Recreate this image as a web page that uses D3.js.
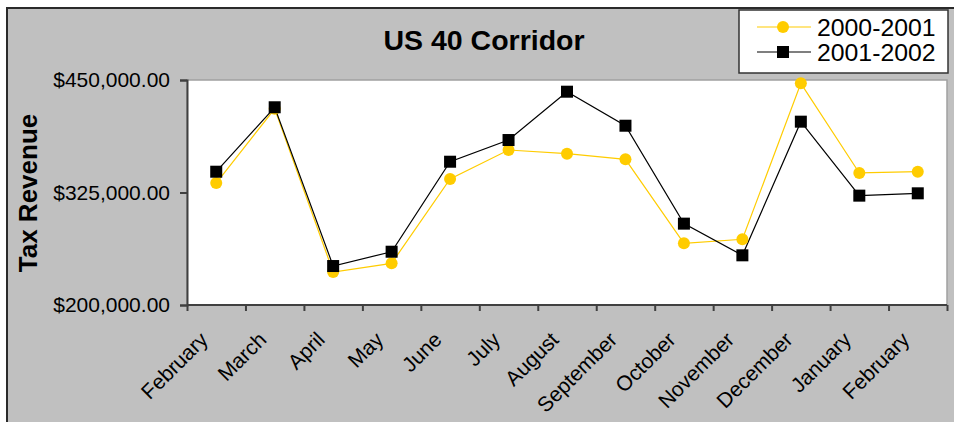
<!DOCTYPE html>
<html>
<head>
<meta charset="utf-8">
<script src="https://cdn.jsdelivr.net/npm/d3@7"></script>
<style>
  html, body { margin: 0; padding: 0; background: #ffffff; }
  svg { display: block; font-family: "Liberation Sans", Arial, sans-serif; }
</style>
</head>
<body>
<svg id="chart" width="954" height="422"></svg>
<script>
const months = ["February","March","April","May","June","July","August","September","October","November","December","January","February"];
const series2000 = [335500, 418000, 236700, 246300, 340000, 372200, 368100, 361900, 268500, 273000, 446300, 346700, 348100];
const series2001 = [348100, 419700, 243300, 259200, 359200, 383300, 437000, 399200, 290400, 255200, 403700, 321500, 324100];
const yTicks = [200000, 325000, 450000];
const seriesNames = ["2000-2001", "2001-2002"];

const svg = d3.select("#chart");
const plot = {left: 187, right: 947, top: 80, bottom: 305};

// background frame
svg.append("rect").attr("x", 7).attr("y", 8).attr("width", 960).attr("height", 430)
  .attr("fill", "#c0c0c0").attr("stroke", "#2a2a2a").attr("stroke-width", 2);

// plot area
svg.append("rect").attr("x", plot.left).attr("y", plot.top)
  .attr("width", plot.right - plot.left).attr("height", plot.bottom - plot.top)
  .attr("fill", "#ffffff").attr("stroke", "#a0a0a0").attr("stroke-width", 1.5);

const y = d3.scaleLinear().domain([200000, 450000]).range([plot.bottom, plot.top]);
const xb = d3.scaleLinear().domain([0, months.length]).range([plot.left, plot.right]);
const xc = i => xb(i + 0.5);

// y axis
const yAxis = d3.axisLeft(y).tickValues(yTicks).tickSize(7).tickPadding(10)
  .tickFormat(d => "$" + d3.format(",.2f")(d));
const gy = svg.append("g").attr("transform", `translate(${plot.left},0)`).call(yAxis);
gy.select(".domain").attr("stroke", "#404040").attr("stroke-width", 2);
gy.selectAll(".tick line").attr("stroke", "#404040").attr("stroke-width", 2);
gy.selectAll(".tick text").attr("font-size", 21).attr("fill", "#000")
  .attr("font-family", "Liberation Sans, Arial, sans-serif").attr("dy", "0.33em");

// x axis (ticks at category boundaries)
const xAxis = d3.axisBottom(xb).tickValues(d3.range(months.length + 1)).tickSize(6).tickFormat("");
const gx = svg.append("g").attr("transform", `translate(0,${plot.bottom})`).call(xAxis);
gx.select(".domain").attr("stroke", "#404040").attr("stroke-width", 2)
  .attr("d", `M${plot.left},0H${plot.right}`);
gx.selectAll(".tick line").attr("stroke", "#404040").attr("stroke-width", 2);

// x labels
svg.append("g").selectAll("text").data(months).join("text")
  .attr("transform", (d, i) => `translate(${xc(i) - 7},341) rotate(-45)`)
  .attr("text-anchor", "end").attr("font-size", 21).attr("fill", "#000")
  .text(d => d);

// lines
const line = d3.line().x((d, i) => xc(i)).y(d => y(d));
svg.append("path").datum(series2000).attr("d", line)
  .attr("fill", "none").attr("stroke", "#ffcc00").attr("stroke-width", 1.2);
svg.append("path").datum(series2001).attr("d", line)
  .attr("fill", "none").attr("stroke", "#000000").attr("stroke-width", 1.2);

// markers
svg.append("g").selectAll("circle").data(series2000).join("circle")
  .attr("cx", (d, i) => xc(i)).attr("cy", d => y(d)).attr("r", 6)
  .attr("fill", "#ffcc00");
svg.append("g").selectAll("rect").data(series2001).join("rect")
  .attr("x", (d, i) => xc(i) - 6).attr("y", d => y(d) - 6)
  .attr("width", 12).attr("height", 12).attr("fill", "#000000");

// title
svg.append("text").attr("x", 484).attr("y", 50).attr("text-anchor", "middle")
  .attr("font-size", 28.5).attr("font-weight", "bold").attr("fill", "#000")
  .text("US 40 Corridor");

// y title
svg.append("text").attr("transform", "translate(37,193) rotate(-90)")
  .attr("text-anchor", "middle").attr("font-size", 26).attr("font-weight", "bold")
  .attr("fill", "#000").text("Tax Revenue");

// legend
const lg = svg.append("g");
lg.append("rect").attr("x", 739).attr("y", 10).attr("width", 209).attr("height", 63)
  .attr("fill", "#ffffff").attr("stroke", "#333333").attr("stroke-width", 1.5);
const colors = ["#ffcc00", "#000000"];
seriesNames.forEach((name, k) => {
  const cy = 27 + k * 25;
  lg.append("line").attr("x1", 757).attr("x2", 811).attr("y1", cy).attr("y2", cy)
    .attr("stroke", colors[k]).attr("stroke-width", 1.2);
  if (k === 0) {
    lg.append("circle").attr("cx", 783).attr("cy", cy).attr("r", 6).attr("fill", colors[k]);
  } else {
    lg.append("rect").attr("x", 777).attr("y", cy - 6).attr("width", 12).attr("height", 12).attr("fill", colors[k]);
  }
  lg.append("text").attr("x", 817).attr("y", cy).attr("dy", "0.35em")
    .attr("font-size", 24.8).attr("fill", "#000").text(name);
});
</script>
</body>
</html>
